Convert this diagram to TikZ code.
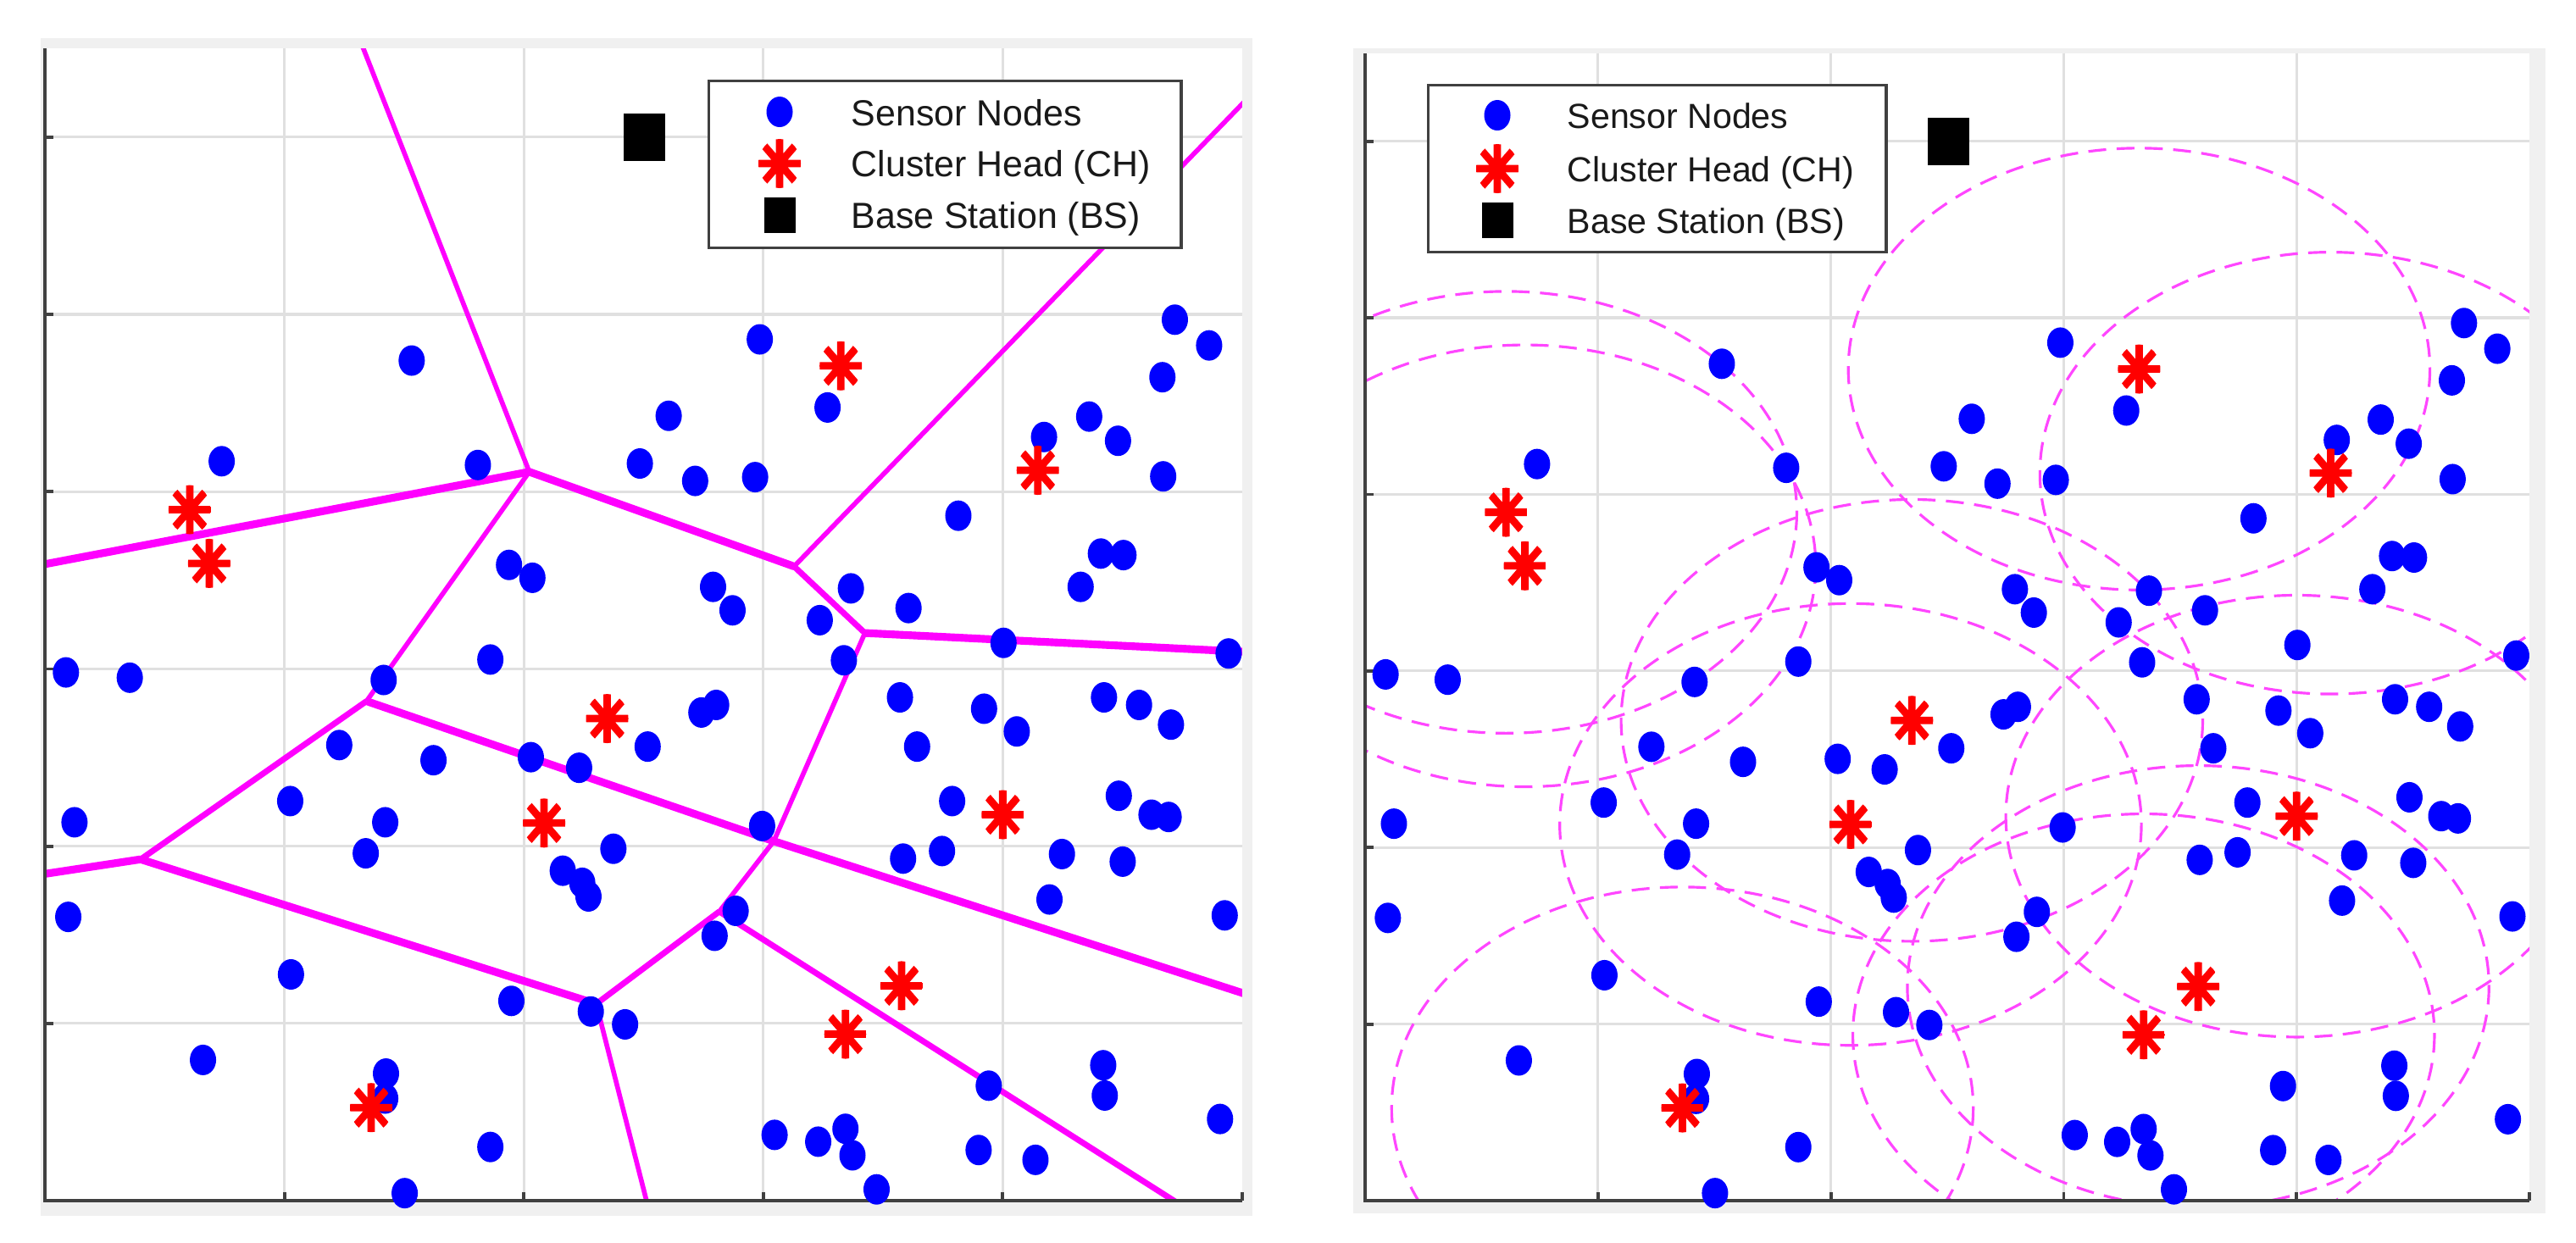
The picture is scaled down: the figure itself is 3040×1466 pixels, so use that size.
\documentclass[tikz,border=0pt]{standalone}
\usepackage{fontspec}
\setmainfont{Liberation Sans}
\usetikzlibrary{shapes.geometric}
\definecolor{snblue}{RGB}{0,0,255}
\definecolor{vmag}{RGB}{255,0,255}
\definecolor{cmag}{RGB}{255,70,255}
\definecolor{gridc}{RGB}{224,224,224}
\definecolor{framec}{RGB}{240,240,240}
\definecolor{axc}{RGB}{64,64,64}
\definecolor{txtc}{RGB}{25,25,25}
\def\dotlist{486/430,933/402,1020/492,1466/376,1510/410,1450/452,242/563,571/568,779/566,816/503,850/589,927/584,1298/531,1356/504,1393/536,1451/583,1188/635,1371/685,1400/687,1345/729,611/700,641/717,873/729,898/760,1050/731,1124/757,1010/773,1041/826,1246/803,1535/817,42/842,124/849,587/825,450/852,1113/875,1221/890,1263/920,1375/875,1420/885,1461/911,858/895,877/885,393/938,514/958,639/954,701/968,789/940,1135/940,330/1012,452/1040,53/1040,427/1081,745/1075,936/1045,1180/1012,1394/1005,1436/1030,1458/1033,1117/1088,1167/1078,1321/1082,1399/1092,680/1104,705/1120,713/1138,45/1165,1305/1142,1530/1163,902/1157,875/1190,331/1241,614/1276,716/1290,760/1307,218/1354,453/1372,452/1405,587/1469,477/1530,952/1453,1008/1462,1043/1445,1052/1480,1083/1525,1227/1388,1214/1473,1287/1486,1374/1361,1376/1401,1524/1432}
\def\chlist{201/627,226/698,1037/437,1290/575,737/903,656/1041,1245/1030,1115/1256,1043/1320,434/1417}
\begin{document}
\begin{tikzpicture}[x=0.01cm,y=-0.01cm,
  gridl/.style={draw=gridc,line width=0.9pt},
  axl/.style={draw=axc,line width=1.1pt},
  vthin/.style={draw=vmag,line width=1.6pt},
  vmed/.style={draw=vmag,line width=2.0pt},
  vthick/.style={draw=vmag,line width=2.6pt},
  cov/.style={draw=cmag,line width=0.9pt,dash pattern=on 6pt off 3.5pt},
  sn/.style={ellipse,fill=snblue,draw=none,inner sep=0pt,minimum width=0.31cm,minimum height=0.36cm},
  chs/.style={ellipse,draw=none,inner sep=0pt,minimum width=0.50cm,minimum height=0.58cm,
    path picture={\draw[red,line width=2.5pt]
      (path picture bounding box.north) -- (path picture bounding box.south)
      (path picture bounding box.east) -- (path picture bounding box.west)
      (path picture bounding box.north east) -- (path picture bounding box.south west)
      (path picture bounding box.north west) -- (path picture bounding box.south east);}},
  bsq/.style={rectangle,fill=black,draw=none,inner sep=0pt,minimum width=0.49cm,minimum height=0.56cm},
  legsq/.style={rectangle,fill=black,draw=none,inner sep=0pt,minimum width=0.37cm,minimum height=0.42cm},
  legbox/.style={rectangle,draw=axc,line width=0.9pt,fill=white,inner sep=0pt,anchor=north west},
  legtxtL/.style={anchor=base west,inner sep=0pt,text=txtc,font=\fontsize{12.2}{14}\selectfont},
  legtxtR/.style={anchor=base west,inner sep=0pt,text=txtc,font=\fontsize{11.7}{14}\selectfont}]
\useasboundingbox (0,0) rectangle (3040,1466);
% figure frames
\fill[framec] (48,45) rectangle (1478,1435);
\fill[white] (53,57) rectangle (1466,1417);
\fill[framec] (1597,57) rectangle (3004,1432);
\fill[white] (1611,63) rectangle (2985,1417);
% ================= LEFT PANEL =================
\begin{scope}[shift={(39.2,41.4)},xscale=0.919,yscale=0.8933]
  \foreach \gx in {322.5,630,937.5,1245} \draw[gridl] (\gx,17.5) -- (\gx,1540);
  \foreach \gy in {1305.8,1071.6,837.4,603.2,369,134.8} \draw[gridl] (15,\gy) -- (1552.5,\gy);
  \begin{scope}
    \clip (15,17.5) rectangle (1552.5,1540);
    \coordinate (V1) at (637,577);
    \coordinate (V2) at (977,702);
    \coordinate (V3) at (1068,790);
    \coordinate (V4) at (428,880);
    \coordinate (V5) at (951,1065);
    \coordinate (V6) at (138,1089);
    \coordinate (V7) at (881,1158);
    \coordinate (V8) at (723,1280);
    \coordinate (B1) at (421,10);
    \coordinate (B2) at (10,700);
    \coordinate (B3) at (1560,83);
    \coordinate (B4) at (1560,815);
    \coordinate (B5) at (10,1109);
    \coordinate (B6) at (1560,1268);
    \coordinate (B7) at (1477,1548);
    \coordinate (B8) at (790,1550);
    \draw[vthin] (V1) -- (B1);
    \draw[vthick] (V1) -- (B2);
    \draw[vthick] (V1) -- (V2);
    \draw[vthin] (V1) -- (V4);
    \draw[vthin] (V2) -- (B3);
    \draw[vmed] (V2) -- (V3);
    \draw[vthick] (V3) -- (B4);
    \draw[vthin] (V3) -- (V5);
    \draw[vthick] (V4) -- (V5);
    \draw[vmed] (V4) -- (V6);
    \draw[vthick] (V6) -- (B5);
    \draw[vthick] (V6) -- (V8);
    \draw[vthick] (V5) -- (B6);
    \draw[vthin] (V5) -- (V7);
    \draw[vmed] (V7) -- (V8);
    \draw[vmed] (V7) -- (B7);
    \draw[vthin] (V8) -- (B8);
  \end{scope}
  \foreach \gy in {1305.8,1071.6,837.4,603.2,369,134.8} \draw[axl] (15,\gy) -- (26,\gy);
  \foreach \gx in {322.5,630,937.5,1245,1552.5} \draw[axl] (\gx,1540) -- (\gx,1529);
  \draw[axl] (15,17.5) -- (15,1540) -- (1552.5,1540);
  \foreach \x/\y [count=\i] in \dotlist {\node[sn] (L\i) at (\x,\y) {};}
  \foreach \x/\y [count=\i] in \chlist {\node[chs] (LS\i) at (\x,\y) {};}
  \node[bsq] (LBS) at (785,135) {};
\end{scope}
% left legend
\node[legbox,minimum width=5.57cm,minimum height=1.97cm] (Lleg) at (835,94) {};
\node[sn] (LlegSN) at (920,132) {};
\node[chs] (LlegCH) at (920,193) {};
\node[legsq] (LlegBS) at (920,254) {};
\node[legtxtL] (LtSN) at (1004,148) {Sensor Nodes};
\node[legtxtL] (LtCH) at (1004,208) {Cluster Head (CH)};
\node[legtxtL] (LtBS) at (1004,269) {Base Station (BS)};
% ================= RIGHT PANEL =================
\begin{scope}[shift={(1597.6,46.7)},xscale=0.8937,yscale=0.8898]
  \foreach \gx in {322.5,630,937.5,1245} \draw[gridl] (\gx,18.3) -- (\gx,1540);
  \foreach \gy in {1305.8,1071.6,837.4,603.2,369,134.8} \draw[gridl] (15,\gy) -- (1552.5,\gy);
  \begin{scope}
    \clip (15,18.3) rectangle (1552.5,1540);
    \foreach \x/\y in \chlist {\draw[cov] (\x,\y) ellipse [x radius=384, y radius=293];}
  \end{scope}
  \foreach \gy in {1305.8,1071.6,837.4,603.2,369,134.8} \draw[axl] (15,\gy) -- (26,\gy);
  \foreach \gx in {322.5,630,937.5,1245,1552.5} \draw[axl] (\gx,1540) -- (\gx,1529);
  \draw[axl] (15,18.3) -- (15,1540) -- (1552.5,1540);
  \foreach \x/\y [count=\i] in \dotlist {\node[sn] (R\i) at (\x,\y) {};}
  \foreach \x/\y [count=\i] in \chlist {\node[chs] (RS\i) at (\x,\y) {};}
  \node[bsq] (RBS) at (785,135) {};
\end{scope}
% right legend
\node[legbox,minimum width=5.40cm,minimum height=1.97cm] (Rleg) at (1684,99) {};
\node[sn] (RlegSN) at (1767,136) {};
\node[chs] (RlegCH) at (1767,199) {};
\node[legsq] (RlegBS) at (1767,260) {};
\node[legtxtR] (RtSN) at (1849,151) {Sensor Nodes};
\node[legtxtR] (RtCH) at (1849,214) {Cluster Head (CH)};
\node[legtxtR] (RtBS) at (1849,275) {Base Station (BS)};
\end{tikzpicture}
\end{document}
